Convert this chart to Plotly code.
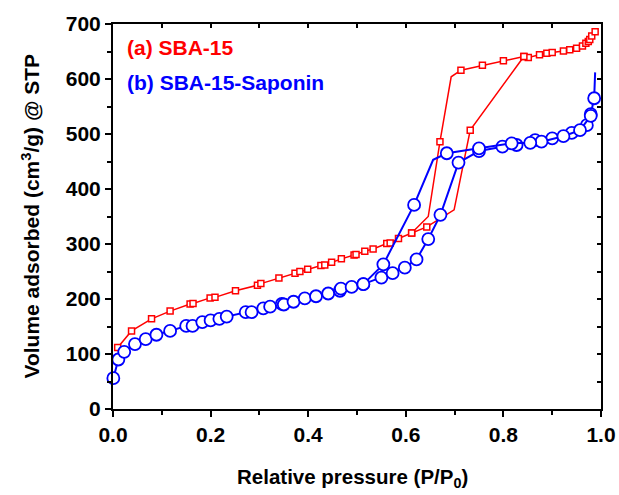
import plotly.graph_objects as go

# ---------------- data ----------------
# SBA-15 (red squares) - adsorption branch
a_ads_x = [0.0096, 0.038, 0.079, 0.117, 0.158, 0.164, 0.199, 0.209, 0.251, 0.296, 0.303,
           0.340, 0.373, 0.383, 0.399, 0.426, 0.434, 0.448, 0.468, 0.494, 0.498, 0.516,
           0.533, 0.561, 0.568, 0.585, 0.612, 0.643, 0.699, 0.732, 0.842, 0.851, 0.874,
           0.889, 0.900, 0.923, 0.936, 0.950, 0.962, 0.969, 0.974, 0.977, 0.981, 0.988]
a_ads_y = [112, 142, 164, 178, 191, 192, 202, 203, 215, 225, 228,
           238, 247, 250, 254, 261, 262, 267, 273, 280, 281, 287,
           291, 301, 302, 310, 320, 331, 362, 507, 641, 639, 644,
           647, 648, 651, 653, 656, 660, 665, 668, 672, 678, 686]
# SBA-15 - desorption branch
a_des_x = [0.842, 0.800, 0.757, 0.713, 0.693, 0.670, 0.646, 0.612]
a_des_y = [641, 633, 625, 616, 604, 486, 350, 320]

# SBA-15-Saponin (blue circles) - adsorption branch
b_ads_x = [0.0007, 0.011, 0.023, 0.045, 0.067, 0.089, 0.117, 0.150, 0.163, 0.183, 0.200,
           0.218, 0.233, 0.272, 0.284, 0.308, 0.322, 0.346, 0.350, 0.370, 0.393, 0.416,
           0.441, 0.465, 0.467, 0.489, 0.513, 0.550, 0.573, 0.598, 0.622, 0.646, 0.671,
           0.708, 0.750, 0.798, 0.827, 0.865, 0.900, 0.940, 0.971, 0.979, 0.986, 0.988]
b_ads_y = [56, 90, 104, 118, 127, 135, 142, 151, 151, 158, 161,
           164, 168, 176, 176, 183, 186, 191, 190, 195, 201, 205,
           210, 215, 219, 222, 227, 239, 247, 257, 272, 309, 353,
           448, 469, 477, 480, 489, 492, 502, 516, 536, 565, 612]
# SBA-15-Saponin - desorption branch
b_des_x = [0.979, 0.957, 0.923, 0.878, 0.855, 0.817, 0.750, 0.684, 0.656, 0.617, 0.554, 0.513]
b_des_y = [533, 507, 496, 486, 484, 483, 474, 465, 453, 371, 263, 227]

# vertices that are only line joints (no symbol drawn in the reference)
a_ads_plain = {0.699}
a_des_plain = {0.693, 0.646}
b_ads_plain = {0.988}
b_des_plain = {0.656}

legend_labels = ["(a) SBA-15", "(b) SBA-15-Saponin"]
x_title = "Relative pressure (P/P<sub>0</sub>)"
y_title = "Volume adsorbed (cm<sup>3</sup>/g) @ STP"
x_ticks = [0.0, 0.2, 0.4, 0.6, 0.8, 1.0]
x_tick_text = ["0.0", "0.2", "0.4", "0.6", "0.8", "1.0"]
y_ticks = [0, 100, 200, 300, 400, 500, 600, 700]

RED = "#ff0000"
BLUE = "#0000ff"
FONT = "Arial, Liberation Sans, sans-serif"

fig = go.Figure()


def add_branch(xs, ys, plain, color, symbol, msize, lw, mlw):
    sizes = [0 if x in plain else msize for x in xs]
    fig.add_trace(go.Scatter(
        x=xs, y=ys, mode="lines+markers",
        line=dict(color=color, width=lw),
        marker=dict(symbol=symbol, size=sizes, color="#ffffff", opacity=1,
                    line=dict(color=color, width=mlw)),
        showlegend=False, hoverinfo="skip", cliponaxis=False))


add_branch(a_ads_x, a_ads_y, a_ads_plain, RED, "square", 6, 1.5, 1.5)
add_branch(a_des_x, a_des_y, a_des_plain, RED, "square", 6, 1.5, 1.5)
add_branch(b_ads_x, b_ads_y, b_ads_plain, BLUE, "circle", 12, 2, 1.8)
add_branch(b_des_x, b_des_y, b_des_plain, BLUE, "circle", 12, 2, 1.8)

# helper trace so mirrored tick axes are drawn
fig.add_trace(go.Scatter(x=[None], y=[None], xaxis="x2", yaxis="y2",
                         showlegend=False, hoverinfo="skip"))

# legend as coloured text
fig.add_annotation(x=0.024, y=658, xref="x", yref="y", text="<b>" + legend_labels[0] + "</b>",
                   showarrow=False, xanchor="left", yanchor="middle",
                   font=dict(family=FONT, size=21, color=RED))
fig.add_annotation(x=0.024, y=594, xref="x", yref="y", text="<b>" + legend_labels[1] + "</b>",
                   showarrow=False, xanchor="left", yanchor="middle",
                   font=dict(family=FONT, size=21, color=BLUE))

# axis titles
fig.add_annotation(x=0.49, y=-0.178, xref="paper", yref="paper",
                   text="<b>" + x_title + "</b>", showarrow=False,
                   xanchor="center", yanchor="middle",
                   font=dict(family=FONT, size=20.5, color="black"))
fig.add_annotation(x=-0.170, y=0.5, xref="paper", yref="paper",
                   text="<b>" + y_title + "</b>", showarrow=False, textangle=-90,
                   xanchor="center", yanchor="middle",
                   font=dict(family=FONT, size=21, color="black"))

axis_common = dict(showgrid=False, zeroline=False, showline=True,
                   linecolor="black", linewidth=2, ticks="outside",
                   tickcolor="black", tickwidth=2, ticklen=6, automargin=False,
                   tickfont=dict(family=FONT, size=21, color="black", weight="bold"))

fig.update_layout(
    width=619, height=495,
    margin=dict(l=113, r=18, t=24, b=86),
    paper_bgcolor="white", plot_bgcolor="white",
    font=dict(family=FONT, color="black"),
    xaxis=dict(range=[0, 1.0], tickvals=x_ticks, ticktext=x_tick_text,
               minor=dict(dtick=0.1, tick0=0, ticks="outside", ticklen=4,
                          tickwidth=2, tickcolor="black"),
               **axis_common),
    yaxis=dict(range=[0, 700], tickvals=y_ticks,
               minor=dict(dtick=50, tick0=0, ticks="outside", ticklen=4,
                          tickwidth=2, tickcolor="black"),
               **axis_common),
    xaxis2=dict(range=[0, 1.0], overlaying="x", side="top", anchor="y2",
                showgrid=False, zeroline=False, showline=True, linecolor="black",
                linewidth=2, ticks="inside", dtick=0.1, tick0=0, ticklen=4,
                tickwidth=1.5, tickcolor="black", showticklabels=False),
    yaxis2=dict(range=[0, 700], overlaying="y", side="right", anchor="x2",
                showgrid=False, zeroline=False, showline=True, linecolor="black",
                linewidth=2, ticks="inside", dtick=50, tick0=0, ticklen=4,
                tickwidth=1.5, tickcolor="black", showticklabels=False),
)

fig.write_html("out.html")
